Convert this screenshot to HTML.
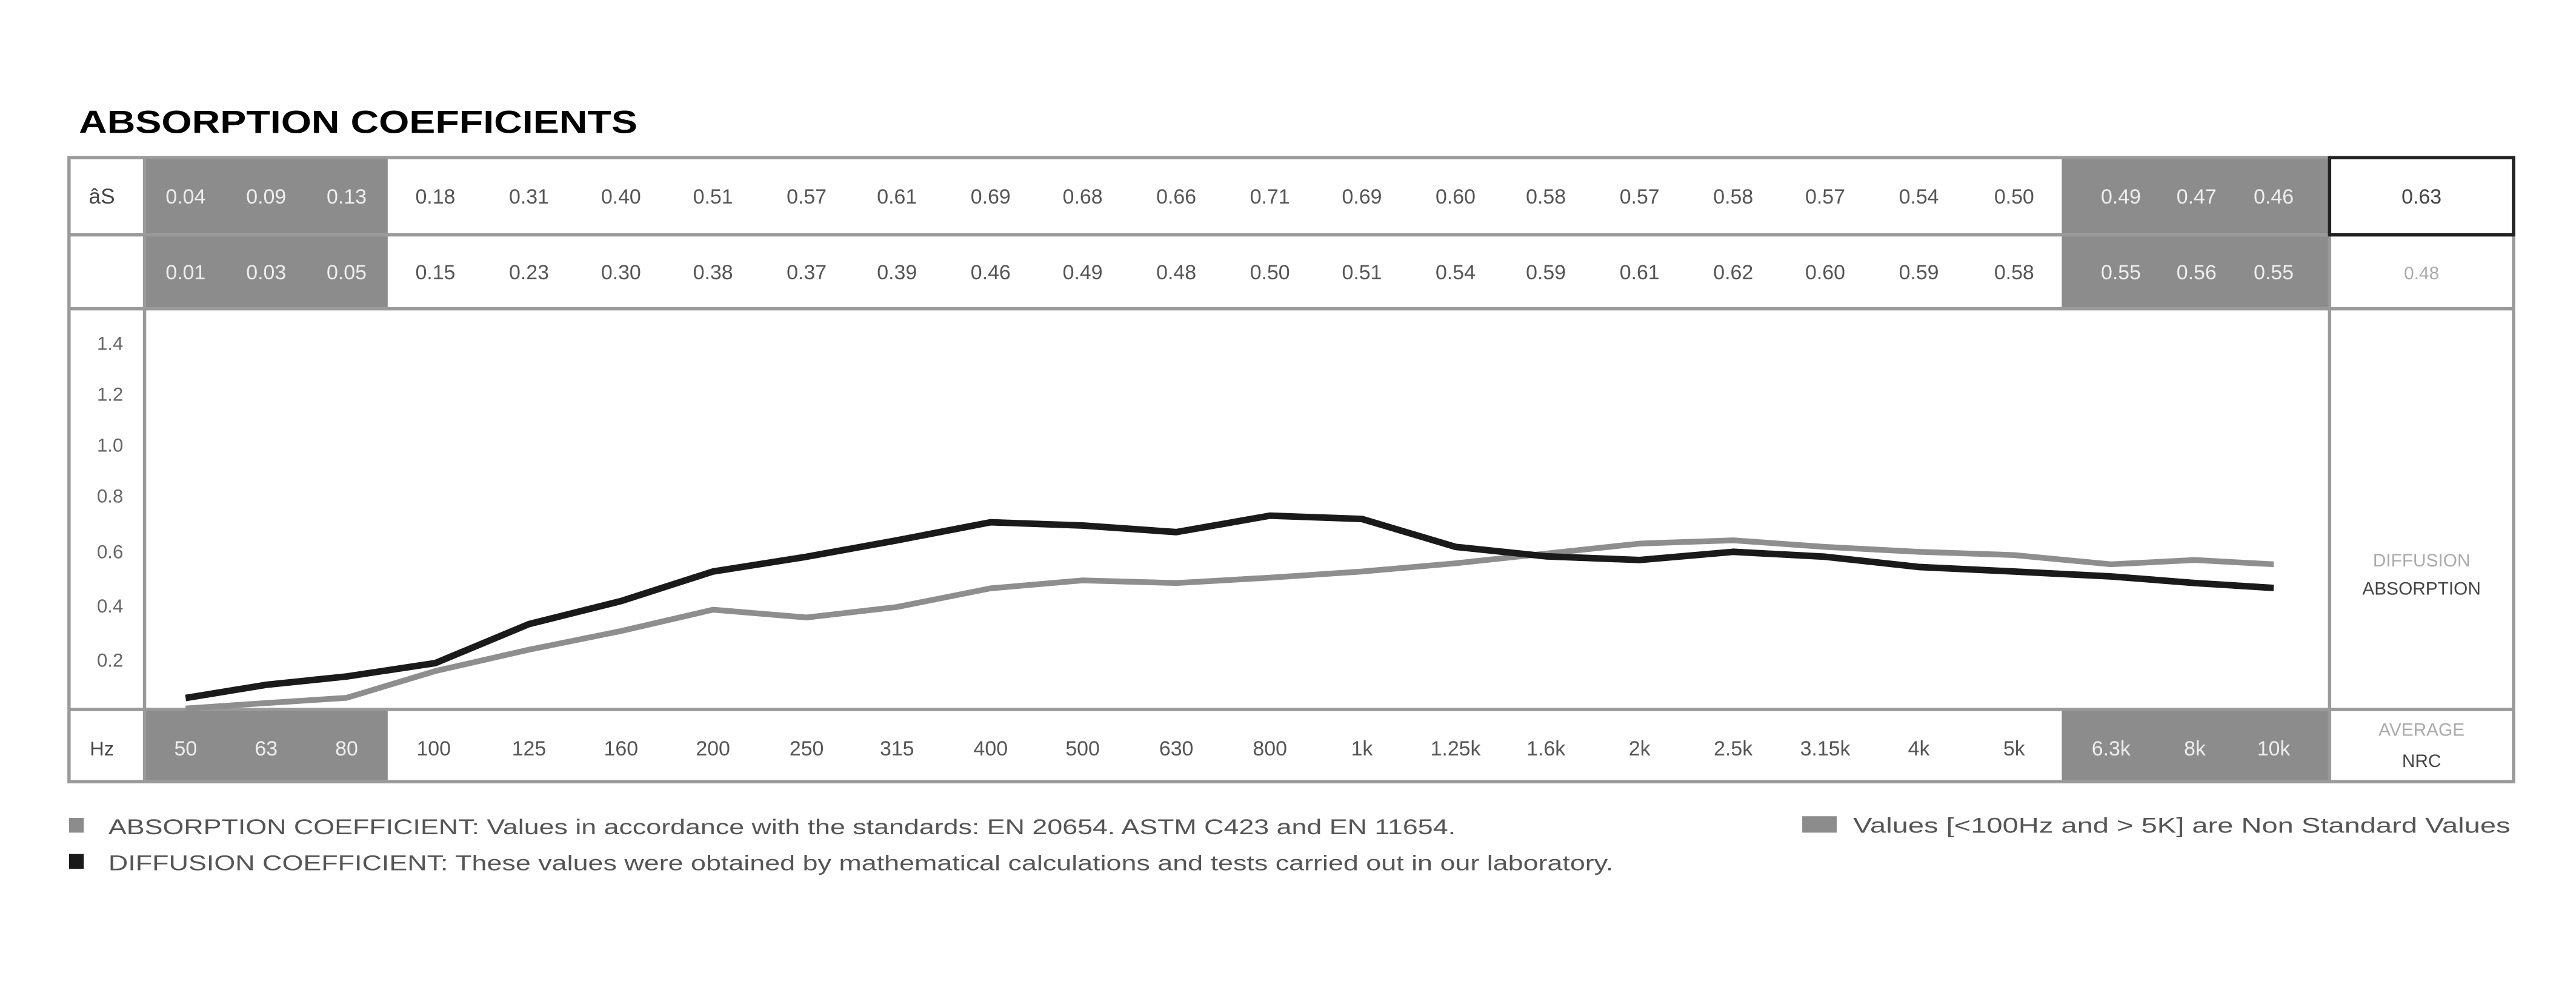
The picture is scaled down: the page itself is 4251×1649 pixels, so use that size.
<!DOCTYPE html>
<html><head><meta charset="utf-8"><style>
html,body{margin:0;padding:0;background:#fff;}
svg{display:block;}
text{font-family:"Liberation Sans",sans-serif;}
</style></head><body>
<svg width="4251" height="1649" viewBox="0 0 1568 608.3" preserveAspectRatio="none" xmlns="http://www.w3.org/2000/svg">
<rect width="1568" height="608.3" fill="#fff"/>
<text x="48" y="81" font-size="19.5" font-weight="bold" fill="#000" textLength="340" lengthAdjust="spacingAndGlyphs">ABSORPTION COEFFICIENTS</text>
<!-- gray blocks -->
<g fill="#8c8c8c">
<rect x="88" y="96" width="148" height="92"/>
<rect x="1255" y="96" width="163" height="92"/>
<rect x="88" y="432" width="148" height="44"/>
<rect x="1255" y="432" width="163" height="44"/>
</g>
<!-- table borders -->
<g stroke="#9a9a9a" stroke-width="2" fill="none">
<rect x="42" y="96" width="1488" height="380"/>
<line x1="42" y1="143" x2="1530" y2="143"/>
<line x1="42" y1="188" x2="1530" y2="188"/>
<line x1="42" y1="432" x2="1530" y2="432"/>
<line x1="88" y1="96" x2="88" y2="476"/>
<line x1="1418" y1="96" x2="1418" y2="476"/>
</g>
<rect x="1418" y="96" width="112" height="47" fill="none" stroke="#222" stroke-width="2"/>
<!-- header labels -->
<text x="62" y="124" font-size="13" fill="#444" text-anchor="middle">âS</text>
<text x="62" y="460" font-size="12" fill="#444" text-anchor="middle">Hz</text>
<g font-size="11.5" fill="#666" text-anchor="middle">
<text x="67" y="213">1.4</text><text x="67" y="244">1.2</text><text x="67" y="275">1.0</text>
<text x="67" y="306">0.8</text><text x="67" y="340">0.6</text><text x="67" y="373">0.4</text><text x="67" y="406">0.2</text>
</g>
<g font-size="12.5" text-anchor="middle">
<g fill="#eee">
<text x="113" y="124">0.04</text><text x="162" y="124">0.09</text><text x="211" y="124">0.13</text>
<text x="1291" y="124">0.49</text><text x="1337" y="124">0.47</text><text x="1384" y="124">0.46</text>
<text x="113" y="170">0.01</text><text x="162" y="170">0.03</text><text x="211" y="170">0.05</text>
<text x="1291" y="170">0.55</text><text x="1337" y="170">0.56</text><text x="1384" y="170">0.55</text>
<text x="113" y="460">50</text><text x="162" y="460">63</text><text x="211" y="460">80</text>
<text x="1285" y="460">6.3k</text><text x="1336" y="460">8k</text><text x="1384" y="460">10k</text>
</g>
<g fill="#555">
<text x="265" y="124">0.18</text><text x="322" y="124">0.31</text><text x="378" y="124">0.40</text><text x="434" y="124">0.51</text><text x="491" y="124">0.57</text><text x="546" y="124">0.61</text><text x="603" y="124">0.69</text><text x="659" y="124">0.68</text><text x="716" y="124">0.66</text><text x="773" y="124">0.71</text><text x="829" y="124">0.69</text><text x="886" y="124">0.60</text><text x="941" y="124">0.58</text><text x="998" y="124">0.57</text><text x="1055" y="124">0.58</text><text x="1111" y="124">0.57</text><text x="1168" y="124">0.54</text><text x="1226" y="124">0.50</text>
<text x="265" y="170">0.15</text><text x="322" y="170">0.23</text><text x="378" y="170">0.30</text><text x="434" y="170">0.38</text><text x="491" y="170">0.37</text><text x="546" y="170">0.39</text><text x="603" y="170">0.46</text><text x="659" y="170">0.49</text><text x="716" y="170">0.48</text><text x="773" y="170">0.50</text><text x="829" y="170">0.51</text><text x="886" y="170">0.54</text><text x="941" y="170">0.59</text><text x="998" y="170">0.61</text><text x="1055" y="170">0.62</text><text x="1111" y="170">0.60</text><text x="1168" y="170">0.59</text><text x="1226" y="170">0.58</text>
<text x="264" y="460">100</text><text x="322" y="460">125</text><text x="378" y="460">160</text><text x="434" y="460">200</text><text x="491" y="460">250</text><text x="546" y="460">315</text><text x="603" y="460">400</text><text x="659" y="460">500</text><text x="716" y="460">630</text><text x="773" y="460">800</text><text x="829" y="460">1k</text><text x="886" y="460">1.25k</text><text x="941" y="460">1.6k</text><text x="998" y="460">2k</text><text x="1055" y="460">2.5k</text><text x="1111" y="460">3.15k</text><text x="1168" y="460">4k</text><text x="1226" y="460">5k</text>
</g>
<text x="1474" y="124" fill="#444">0.63</text>
<text x="1474" y="170" fill="#aaa" font-size="11">0.48</text>
</g>
<g font-size="11" text-anchor="middle">
<text x="1474" y="345" fill="#aaa">DIFFUSION</text>
<text x="1474" y="362" fill="#444">ABSORPTION</text>
<text x="1474" y="448" fill="#aaa">AVERAGE</text>
<text x="1474" y="467" fill="#444">NRC</text>
</g>
<!-- lines -->
<polyline fill="none" stroke="#8e8e8e" stroke-width="3.5" stroke-linejoin="round" points="113,431.4 162,428.1 211,424.9 265,408.6 322,395.6 378,384.25 434,371.25 491,376 546,369.6 603,358.25 659,353.4 716,355 773,351.75 829,348 886,343 941,337.1 998,331 1055,329 1111,333 1168,336 1226,338 1285,343.6 1336,341 1384,343.6"/>
<polyline fill="none" stroke="#1a1a1a" stroke-width="4" stroke-linejoin="round" points="113,425 162,417 211,411.9 265,403.75 322,380 378,366 434,348 491,339 546,329 603,318 659,320 716,324 773,314 829,316 886,333 941,338.75 998,341 1055,336 1111,339 1168,345.25 1226,348 1285,351 1336,355 1384,358"/>
<!-- legend -->
<rect x="42" y="498" width="9" height="9" fill="#8c8c8c"/>
<rect x="42" y="520" width="9" height="9" fill="#1a1a1a"/>
<g font-size="13" fill="#555">
<text x="66" y="508" textLength="820" lengthAdjust="spacingAndGlyphs">ABSORPTION COEFFICIENT: Values in accordance with the standards: EN 20654. ASTM C423 and EN 11654.</text>
<text x="66" y="530" textLength="916" lengthAdjust="spacingAndGlyphs">DIFFUSION COEFFICIENT: These values were obtained by mathematical calculations and tests carried out in our laboratory.</text>
<text x="1128" y="507" textLength="400" lengthAdjust="spacingAndGlyphs">Values [&lt;100Hz and &gt; 5K] are Non Standard Values</text>
</g>
<rect x="1097" y="497" width="21" height="10" fill="#8c8c8c"/>
</svg>
</body></html>
